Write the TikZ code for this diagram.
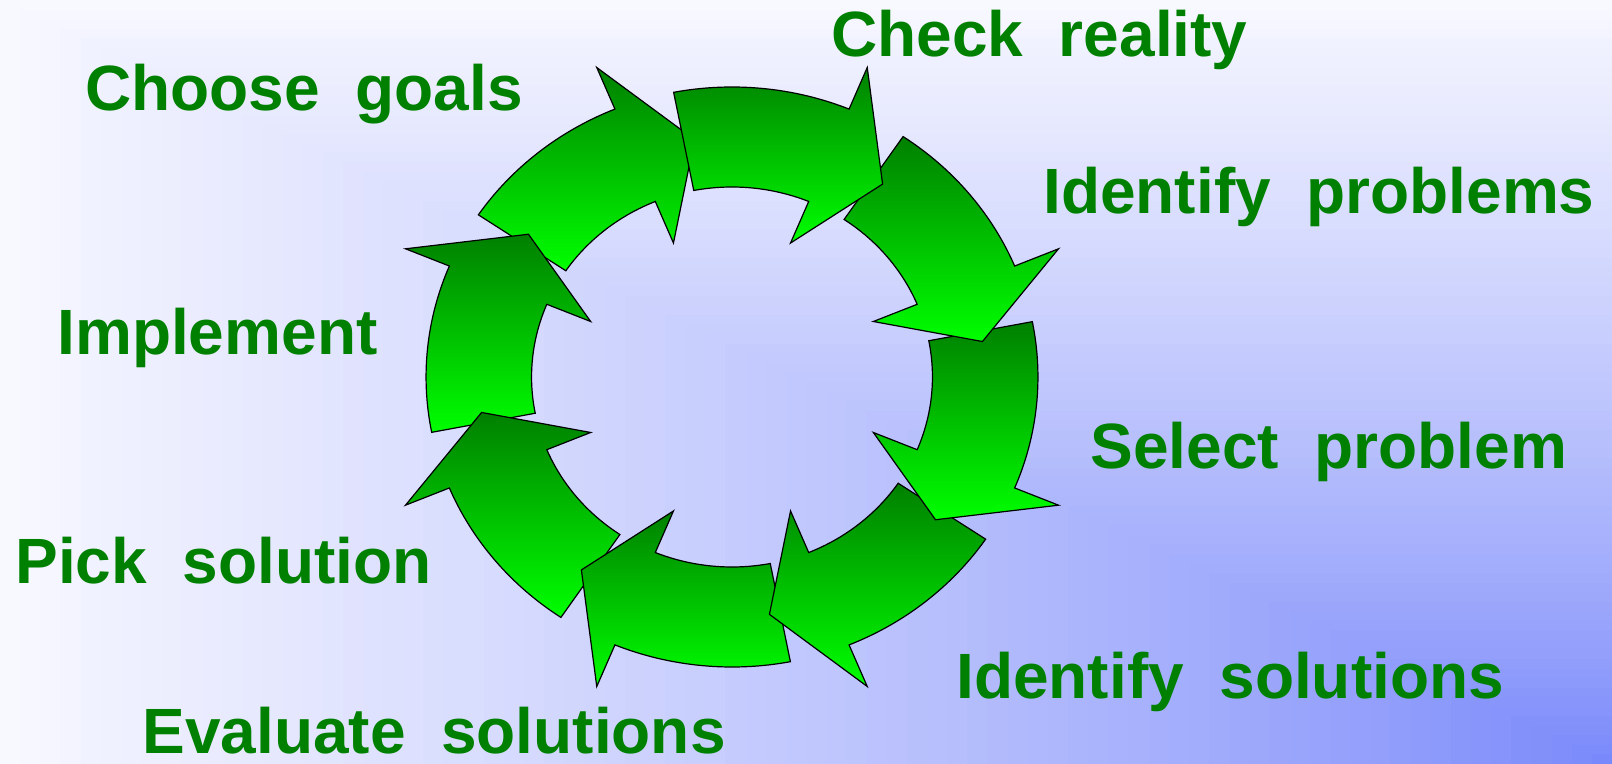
\documentclass[tikz,border=0pt]{standalone}
\usepackage{fontspec}
\setmainfont{Liberation Sans}
\usepackage{tikz}

\definecolor{bgwhite}{RGB}{248,248,255}
\definecolor{bgblue}{RGB}{118,134,250}
\definecolor{stagegreen}{RGB}{0,128,0}
\newcommand{\stagefont}{\fontsize{32}{38}\selectfont\bfseries}

\begin{document}
\begin{tikzpicture}[x=0.5pt, y=0.5pt,
    cyclearrow/.style={draw=black, line width=0.6pt, line join=miter,
        top color=green!50!black, bottom color=green},
    stage/.style={text=stagegreen, font=\stagefont, inner sep=0pt, anchor=base west}]
    \useasboundingbox (0,0) rectangle (1612,-764);

    % background, lighter away from the lower right corner
    \foreach \i in {80,79,...,1} {
        \pgfmathsetmacro\bgt{\i/80}
        \pgfmathtruncatemacro\bgp{100*\bgt^0.8}
        \fill[bgwhite!\bgp!bgblue] ({1612-1612*\bgt},{-764+764*\bgt}) rectangle (1612,-764);
    }

    % ring of eight arrows, drawn so each head lies on the next tail
    \begin{scope}[shift={(732,-377)}]
        \pgfmathsetmacro\rxo{1.055*290} \pgfmathsetmacro\ryo{290}
        \pgfmathsetmacro\rxi{1.055*190} \pgfmathsetmacro\ryi{190}
        \pgfmathsetmacro\rxb{1.055*335} \pgfmathsetmacro\ryb{335}
        \pgfmathsetmacro\rxc{1.055*145} \pgfmathsetmacro\ryc{145}
        \pgfmathsetmacro\rxm{1.055*240} \pgfmathsetmacro\rym{240}
        \foreach \k in {7,6,...,0} {
            \pgfmathsetmacro\angC{76.5-45*\k}
            \pgfmathsetmacro\angT{\angC+24.5}
            \pgfmathsetmacro\angH{\angC-9}
            \pgfmathsetmacro\angP{\angC-23}
            \draw[cyclearrow] (\angT:{\rxo} and {\ryo})
                arc[start angle=\angT, end angle=\angH, x radius=\rxo, y radius=\ryo]
                -- (\angH:{\rxb} and {\ryb})
                -- (\angP:{\rxm} and {\rym})
                -- (\angH:{\rxc} and {\ryc})
                -- (\angH:{\rxi} and {\ryi})
                arc[start angle=\angH, end angle=\angT, x radius=\rxi, y radius=\ryi]
                -- cycle;
        }
    \end{scope}

    \node[stage] (checkreality) at (831,-57)  {Check~~reality};
    \node[stage] (choosegoals)  at (85,-111)  {Choose~~goals};
    \node[stage] (identprob)    at (1043,-214) {Identify~~problems};
    \node[stage] (implement)    at (57,-355)  {Implement};
    \node[stage] (selectprob)   at (1090,-469) {Select~~problem};
    \node[stage] (picksol)      at (15,-583)  {Pick~~solution};
    \node[stage] (identsol)     at (956,-698) {Identify~~solutions};
    \node[stage] (evalsol)      at (142,-753) {Evaluate~~solutions};
\end{tikzpicture}
\end{document}
